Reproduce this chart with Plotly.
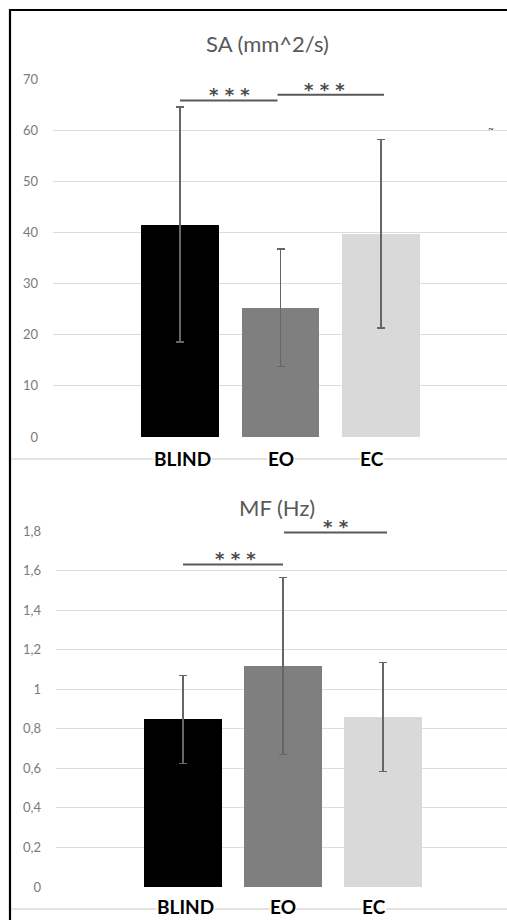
import plotly.graph_objects as go

W, H = 507, 920

categories = ["BLIND", "EO", "EC"]
bar_colors = ["#000000", "#7f7f7f", "#d9d9d9"]

sa_mean = [41.6, 25.3, 39.8]
sa_sd = [23.0, 11.5, 18.5]
sa_ticks = [0, 10, 20, 30, 40, 50, 60, 70]

mf_mean = [0.847, 1.118, 0.86]
mf_sd = [0.222, 0.448, 0.275]
mf_ticks = [0, 0.2, 0.4, 0.6, 0.8, 1.0, 1.2, 1.4, 1.6, 1.8]

# significance comparisons: (from index, to index, label)
sa_sig = [(0, 0.97, "***"), (0.97, 2.03, "***")]
mf_sig = [(0, 1.0, "***"), (1.01, 2.04, "**")]


def px(x):
    return x / W


def py(y):
    return 1 - y / H


FONT = "Lato"
GRAY = "#595959"
xs = list(range(len(categories)))

fig = go.Figure()

fig.add_trace(go.Bar(
    x=xs, y=sa_mean, marker=dict(color=bar_colors, line=dict(color=bar_colors, width=0)),
    width=0.776,
    error_y=dict(type="data", array=sa_sd, visible=True, color="#666666", thickness=1.5, width=4),
    xaxis="x", yaxis="y", showlegend=False,
))
fig.add_trace(go.Bar(
    x=xs, y=mf_mean, marker=dict(color=bar_colors, line=dict(color=bar_colors, width=0)),
    width=0.78,
    error_y=dict(type="data", array=mf_sd, visible=True, color="#666666", thickness=1.5, width=4),
    xaxis="x2", yaxis="y2", showlegend=False,
))

axis_common = dict(showgrid=False, zeroline=False, showticklabels=False, showline=False,
                   fixedrange=True, automargin=False)
yfont = dict(family=FONT, size=13, color="#7a7a7a")

fig.update_layout(
    width=W, height=H,
    margin=dict(l=0, r=0, t=0, b=0, pad=0),
    paper_bgcolor="white", plot_bgcolor="white",
    separators=",.",
    bargap=0,
    xaxis=dict(domain=[px(53), 1], range=[-1.264, 3.254], anchor="y", **axis_common),
    yaxis=dict(domain=[py(437), py(79.5)], range=[0, 70], tickvals=sa_ticks,
               showgrid=True, gridcolor="#dcdcdc", gridwidth=1, zeroline=False, automargin=False,
               fixedrange=True, ticks="", ticklabelstandoff=14, tickfont=yfont, anchor="x"),
    xaxis2=dict(domain=[px(56), 1], range=[-1.27, 3.24], anchor="y2", **axis_common),
    yaxis2=dict(domain=[py(887), py(531)], range=[0, 1.8], tickvals=mf_ticks,
                showgrid=True, gridcolor="#dcdcdc", gridwidth=1, zeroline=False, automargin=False,
                fixedrange=True, ticks="", ticklabelstandoff=14, tickfont=yfont, anchor="x2"),
)

shapes = []
annotations = []

# frame
shapes.append(dict(type="line", xref="paper", yref="paper", x0=px(10), x1=px(10), y0=0, y1=py(9),
                   line=dict(color="black", width=2.2)))
shapes.append(dict(type="line", xref="paper", yref="paper", x0=px(9), x1=1, y0=py(10), y1=py(10),
                   line=dict(color="black", width=2.2)))
# separator lines
for ysep in (459, 909):
    shapes.append(dict(type="line", xref="paper", yref="paper", x0=px(11), x1=1, y0=py(ysep), y1=py(ysep),
                       line=dict(color="#d9d9d9", width=1.5)))

# white patch behind the '**' bracket in the lower chart
shapes.append(dict(type="rect", xref="paper", yref="paper", x0=px(282), x1=px(390), y0=py(578), y1=py(526),
                   fillcolor="white", line=dict(width=0), layer="between"))

STAR_FONT = dict(family="DejaVu Sans", size=18, color="#4a4a4a", weight="bold")

# significance brackets
sa_levels = [65.9, 67.0]
sa_star_dx = [1, -6]
for (a, b, lab), lv, dx in zip(sa_sig, sa_levels, sa_star_dx):
    shapes.append(dict(type="line", xref="x", yref="y", x0=a, x1=b, y0=lv, y1=lv,
                       line=dict(color=GRAY, width=2)))
    annotations.append(dict(x=(a + b) / 2, y=lv, xref="x", yref="y", text=" ".join(lab), showarrow=False,
                            xanchor="center", yanchor="bottom", yshift=-7, xshift=dx, font=STAR_FONT))

mf_levels = [1.631, 1.793]
mf_star_dx = [2, 0]
for (a, b, lab), lv, dx in zip(mf_sig, mf_levels, mf_star_dx):
    shapes.append(dict(type="line", xref="x2", yref="y2", x0=a, x1=b, y0=lv, y1=lv,
                       line=dict(color=GRAY, width=2)))
    annotations.append(dict(x=(a + b) / 2, y=lv, xref="x2", yref="y2", text=" ".join(lab), showarrow=False,
                            xanchor="center", yanchor="bottom", yshift=-7, xshift=dx, font=STAR_FONT))

# titles
annotations.append(dict(x=px(267), y=py(43), xref="paper", yref="paper", text="SA (mm^2/s)",
                        xanchor="center", yanchor="middle",
                        showarrow=False, font=dict(family=FONT, size=22, color=GRAY)))
annotations.append(dict(x=px(277), y=py(507), xref="paper", yref="paper", text="MF (Hz)",
                        xanchor="center", yanchor="middle",
                        showarrow=False, font=dict(family=FONT, size=22, color=GRAY)))

# small artifact mark on the right
annotations.append(dict(x=px(491), y=py(128), xref="paper", yref="paper", text="~",
                        xanchor="center", yanchor="middle",
                        showarrow=False, font=dict(family=FONT, size=10, color="#333333")))

# category labels
label_shift = [2, 0, -9]
for i, c in enumerate(categories):
    annotations.append(dict(x=i, y=py(458), xref="x", yref="paper", text=c, showarrow=False,
                            xanchor="center", yanchor="middle",
                            xshift=label_shift[i], bgcolor="white", borderpad=0,
                            font=dict(family=FONT, size=19, color="black", weight="bold")))
    annotations.append(dict(x=i, y=py(906), xref="x2", yref="paper", text=c, showarrow=False,
                            xanchor="center", yanchor="middle",
                            xshift=label_shift[i], bgcolor="white", borderpad=0,
                            font=dict(family=FONT, size=19, color="black", weight="bold")))

fig.update_layout(shapes=shapes, annotations=annotations)

fig.write_html("out.html")
